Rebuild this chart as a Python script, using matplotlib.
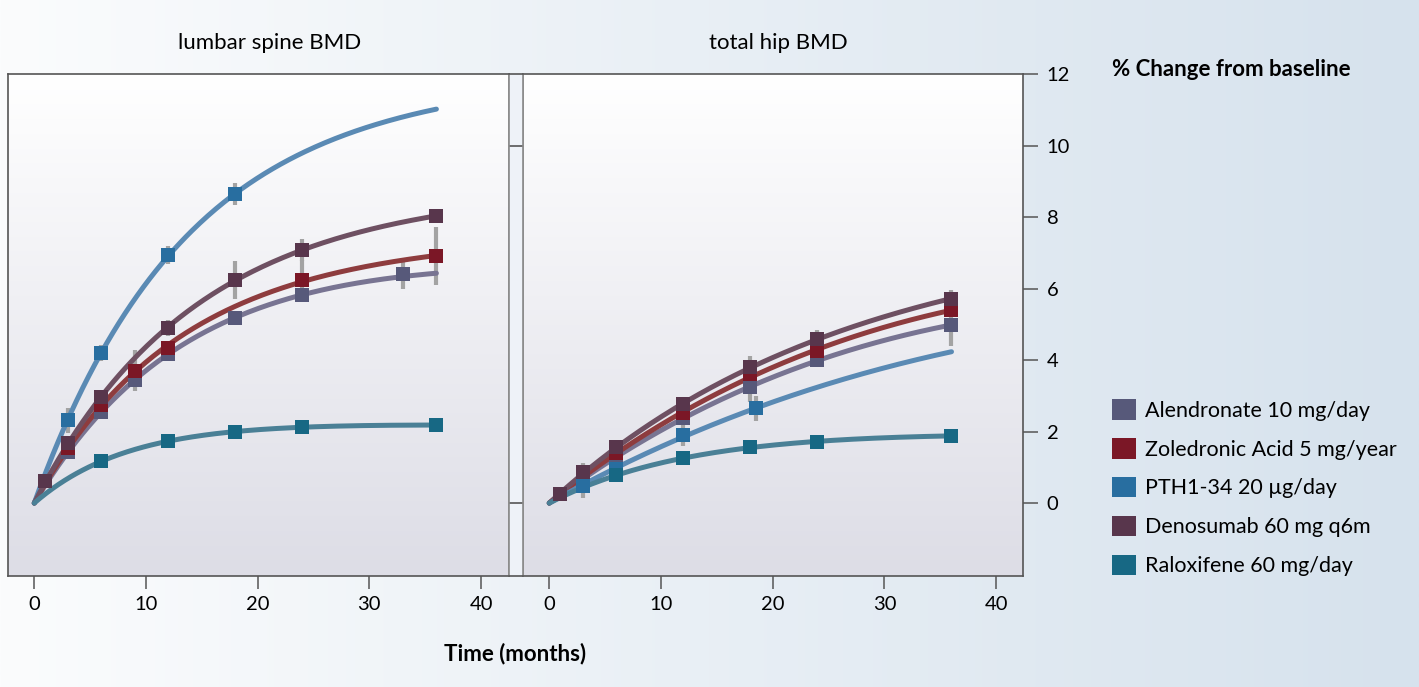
import numpy as np
import matplotlib.pyplot as plt
from matplotlib.patches import Patch

# ---- data ----
drugs = ["Alendronate 10 mg/day", "Zoledronic Acid 5 mg/year", "PTH1-34 20 µg/day",
         "Denosumab 60 mg q6m", "Raloxifene 60 mg/day"]
marker_colors = ["#57597a", "#7b1726", "#286ea0", "#58364c", "#176884"]
line_colors = ["#787492", "#8e3c3e", "#5a8ab4", "#6e5062", "#4a8096"]

# lumbar spine BMD, % change
spine_alen_t = [3, 6, 9, 12, 18, 24, 33]
spine_alen_v = [1.43, 2.55, 3.44, 4.17, 5.17, 5.82, 6.40]
spine_alen_e = [0.15, 0.15, 0.2, 0.15, 0.2, 0.15, 0.42]
spine_alen_end = 6.38
spine_zol_t = [3, 6, 9, 12, 24, 36]
spine_zol_v = [1.55, 2.74, 3.70, 4.33, 6.24, 6.91]
spine_zol_e = [0.2, 0.2, 0.57, 0.2, 0.56, 0.8]
spine_pth_t = [3, 6, 12, 18]
spine_pth_v = [2.32, 4.20, 6.94, 8.64]
spine_pth_e = [0.35, 0.22, 0.25, 0.31]
spine_pth_end = 11.02
spine_den_t = [1, 3, 6, 12, 18, 24, 36]
spine_den_v = [0.62, 1.68, 2.97, 4.89, 6.25, 7.08, 8.03]
spine_den_e = [0.1, 0.2, 0.2, 0.22, 0.53, 0.3, 0.2]
spine_ral_t = [6, 12, 18, 24, 36]
spine_ral_v = [1.17, 1.73, 1.99, 2.13, 2.18]
spine_ral_e = [0.03, 0.03, 0.03, 0.03, 0.05]

# total hip BMD, % change
hip_alen_t = [6, 12, 18, 24, 36]
hip_alen_v = [1.30, 2.37, 3.24, 4.00, 4.98]
hip_alen_e = [0.1, 0.1, 0.4, 0.1, 0.6]
hip_zol_t = [6, 12, 18, 24, 36]
hip_zol_v = [1.39, 2.51, 3.60, 4.25, 5.40]
hip_zol_e = [0.05, 0.05, 0.05, 0.05, 0.1]
hip_pth_t = [3, 6, 12, 18.5]
hip_pth_v = [0.48, 0.94, 1.90, 2.65]
hip_pth_e = [0.35, 0.1, 0.3, 0.35]
hip_pth_end = 4.23
hip_den_t = [1, 3, 6, 12, 18, 24, 36]
hip_den_v = [0.24, 0.86, 1.56, 2.76, 3.80, 4.58, 5.72]
hip_den_e = [0.05, 0.25, 0.1, 0.2, 0.3, 0.25, 0.25]
hip_ral_t = [6, 12, 18, 24, 36]
hip_ral_v = [0.78, 1.25, 1.56, 1.72, 1.88]
hip_ral_e = [0.03, 0.05, 0.05, 0.05, 0.12]

x_ticks = [0, 10, 20, 30, 40]
y_ticks = [0, 2, 4, 6, 8, 10, 12]

plt.rcParams['font.family'] = ['Lato', 'DejaVu Sans']
tick_font = ['Liberation Sans Narrow', 'Lato', 'DejaVu Sans']
spine_col = "#555555"


def fit_curve(t, v, t_end=36):
    # smooth saturating curve through the origin: a*(1-exp(-t/b)) + c*t
    t = np.asarray(t, float)
    v = np.asarray(v, float)
    best = None
    for b in np.linspace(1, 80, 400):
        A = np.column_stack([1 - np.exp(-t / b), t])
        coef, *_ = np.linalg.lstsq(A, v, rcond=None)
        err = np.sum((A @ coef - v) ** 2)
        if best is None or err < best[0]:
            best = (err, b, coef)
    _, b, (a, c) = best
    tt = np.linspace(0, t_end, 200)
    return tt, a * (1 - np.exp(-tt / b)) + c * tt


def gradient_bg(ax, top, bottom):
    g = np.linspace(0, 1, 256)[:, None, None]
    img = np.array(top)[None, None, :] * (1 - g) + np.array(bottom)[None, None, :] * g
    ax.imshow(img / 255, extent=[0, 1, 0, 1], transform=ax.transAxes,
              aspect='auto', zorder=0, interpolation='bilinear')


def draw_panel(ax, series, xlim):
    gradient_bg(ax, (255, 255, 255), (221, 221, 230))
    order = [4, 0, 1, 2, 3]  # raloxifene at back, denosumab on top
    for i in order:
        t, v, e, end = series[i]
        ft, fv = list(t), list(v)
        if end is not None:
            ft.append(36)
            fv.append(end)
        tt, vv = fit_curve(ft, fv)
        ax.errorbar(t, v, yerr=e, fmt='none', ecolor='#a3a3a3', elinewidth=3,
                    capsize=0, zorder=2)
        ax.plot(tt, vv, color=line_colors[i], lw=3.6, solid_capstyle='round', zorder=3 + i * 0.1)
        ax.plot(t, v, 's', color=marker_colors[i], ms=9.5, mew=0, zorder=4 + i * 0.1)
    ax.set_xlim(*xlim)
    ax.set_ylim(-2.04, 12)
    ax.set_xticks(x_ticks)
    ax.tick_params(axis='x', direction='out', length=9.5, width=1.1, color=spine_col,
                   labelsize=14.5, pad=5)
    for lab in ax.get_xticklabels():
        lab.set_family(tick_font)
    for s in ax.spines.values():
        s.set_color(spine_col)
        s.set_linewidth(1.2)


fig = plt.figure(figsize=(14.19, 6.87), dpi=100)

bg = fig.add_axes([0, 0, 1, 1])
bg.set_zorder(-1)
h = np.linspace(0, 1, 512)[None, :, None]
bgimg = np.array([251, 252, 253])[None, None, :] * (1 - h) + np.array([214, 226, 237])[None, None, :] * h
bg.imshow(bgimg / 255, extent=[0, 1, 0, 1], aspect='auto')
bg.set_xlim(0, 1)
bg.set_ylim(0, 1)
bg.axis('off')

W, H = 1419, 687
y0 = 1 - 576 / H
ph = (576 - 74) / H

ax1 = fig.add_axes([8 / W, y0, (509 - 8) / W, ph])
ax2 = fig.add_axes([523 / W, y0, (1023 - 523) / W, ph])
strip = fig.add_axes([509 / W, y0, 14 / W, ph])

spine_series = [
    (spine_alen_t, spine_alen_v, spine_alen_e, spine_alen_end),
    (spine_zol_t, spine_zol_v, spine_zol_e, None),
    (spine_pth_t, spine_pth_v, spine_pth_e, spine_pth_end),
    (spine_den_t, spine_den_v, spine_den_e, None),
    (spine_ral_t, spine_ral_v, spine_ral_e, None),
]
hip_series = [
    (hip_alen_t, hip_alen_v, hip_alen_e, None),
    (hip_zol_t, hip_zol_v, hip_zol_e, None),
    (hip_pth_t, hip_pth_v, hip_pth_e, hip_pth_end),
    (hip_den_t, hip_den_v, hip_den_e, None),
    (hip_ral_t, hip_ral_v, hip_ral_e, None),
]

draw_panel(ax1, spine_series, (-2.35, 42.5))
draw_panel(ax2, hip_series, (-2.35, 42.4))

ax1.set_yticks([])
ax1.spines['right'].set_color('#8a8a8a')

ax2.yaxis.tick_right()
ax2.set_yticks(y_ticks)
ax2.tick_params(axis='y', direction='out', length=11, width=1.1, color=spine_col,
                labelsize=14.5, pad=6)
for lab in ax2.get_yticklabels():
    lab.set_family(tick_font)
ax2.spines['left'].set_color('#8a8a8a')

# narrow strip between the panels
strip.set_facecolor('#eef2f8')
strip.set_xlim(0, 1)
strip.set_ylim(-2.04, 12)
strip.set_xticks([])
strip.set_yticks([])
strip.hlines([0, 10], 0, 1, color=spine_col, lw=1.2)
for s in strip.spines.values():
    s.set_color('#8a8a8a')
    s.set_linewidth(1.2)
strip.spines['bottom'].set_color(spine_col)
strip.spines['top'].set_color(spine_col)

fig.text(270 / W, 1 - 43 / H, "lumbar spine BMD", ha='center', va='center', fontsize=16)
fig.text(778 / W, 1 - 43 / H, "total hip BMD", ha='center', va='center', fontsize=16)
fig.text(1112 / W, 1 - 70 / H, "% Change from baseline", ha='left', va='center',
         fontsize=16, fontweight='bold')
fig.text(515 / W, 1 - 654 / H, "Time (months)", ha='center', va='center',
         fontsize=16, fontweight='bold')

handles = [Patch(facecolor=c, edgecolor='none') for c in marker_colors]
fig.legend(handles, drugs, loc='upper left', bbox_to_anchor=(1112 / W, 1 - 399 / H),
           frameon=False, fontsize=15.5, handlelength=1.1, handleheight=1.1,
           handletextpad=0.45, labelspacing=0.8, borderpad=0, borderaxespad=0)

fig.savefig('out.png', dpi=100)
